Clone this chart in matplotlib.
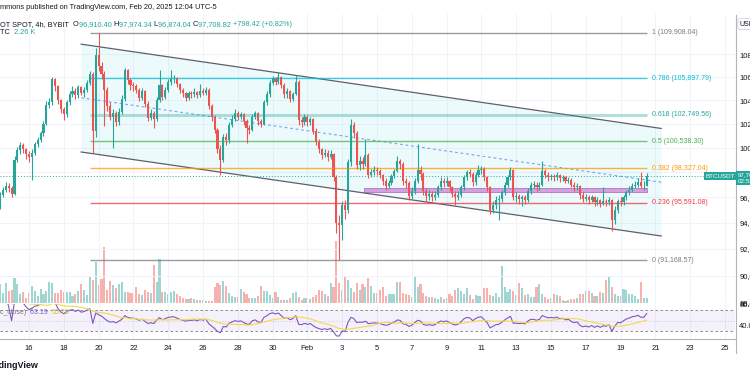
import numpy as np
import pandas as pd
import matplotlib
matplotlib.use('Agg')
import matplotlib.pyplot as plt
import matplotlib.dates as mdates
from matplotlib.ticker import FixedLocator, NullLocator, NullFormatter, FuncFormatter

plt.rcParams['font.family'] = ['Liberation Sans', 'DejaVu Sans']

# BTC/USDT 4h candles, prices in thousands of USDT
first_open = 95.4
closes = [
    96.2, 96.6, 96.9, 96.7, 96.3, 99.0, 99.8, 100.2, 99.9, 99.5,
    99.2, 99.6, 100.3, 100.6, 101.2, 102.0, 103.6, 103.8, 105.8, 105.2,
    104.0, 103.2, 102.8, 103.8, 104.5, 104.8, 104.4, 105.1, 104.6, 104.9,
    105.5, 106.3, 101.4, 107.9, 107.0, 106.3, 104.9, 103.5, 102.6, 102.9,
    102.1, 103.0, 104.1, 106.6, 105.7, 105.3, 105.2, 104.9, 104.2, 104.8,
    103.7, 102.5, 102.9, 102.4, 104.0, 105.3, 104.3, 104.9, 105.6, 105.8,
    105.9, 105.4, 104.9, 104.6, 104.2, 104.6, 104.5, 104.7, 104.4, 104.8,
    104.6, 104.9, 103.5, 102.6, 101.5, 99.9, 99.0, 100.9, 100.6, 101.9,
    102.4, 102.9, 102.6, 102.8, 102.2, 101.6, 101.5, 102.6, 102.9, 102.2,
    102.0, 103.8, 104.5, 105.5, 105.9, 105.6, 106.0, 105.3, 104.5, 104.8,
    104.1, 104.5, 105.6, 102.3, 102.1, 102.6, 102.1, 102.4, 101.4, 100.5,
    99.9, 99.4, 99.6, 99.2, 99.5, 97.6, 94.0, 93.8, 95.4, 95.0,
    98.8, 101.9, 101.2, 98.6, 98.9, 98.7, 99.4, 97.8, 98.0, 98.2,
    98.1, 97.8, 97.3, 96.9, 97.1, 97.7, 98.1, 98.9, 98.7, 97.3,
    97.1, 96.1, 96.5, 97.3, 98.2, 97.9, 96.5, 96.1, 96.3, 96.0,
    96.2, 96.8, 97.3, 97.1, 97.3, 96.8, 96.3, 96.0, 96.2, 96.8,
    97.6, 98.0, 97.9, 97.2, 97.8, 98.2, 98.3, 97.6, 96.8, 95.0,
    95.4, 95.8, 95.9, 96.4, 97.0, 97.6, 98.2, 96.0, 96.1, 95.9,
    96.0, 95.8, 96.5, 97.0, 97.0, 96.8, 97.0, 98.1, 97.8, 97.6,
    97.7, 97.6, 97.8, 97.5, 97.6, 97.3, 97.4, 97.0, 96.8, 96.9,
    96.2, 95.9, 96.0, 95.8, 96.0, 95.6, 95.8, 95.5, 95.7, 95.6,
    95.8, 94.2, 95.0, 95.7, 95.6, 96.0, 96.4, 96.6, 96.9, 97.0,
    97.2, 96.9, 96.9104, 97.70882,
]
highs = [
    96.4, 96.8, 97.2, 97.1, 96.9, 99.3, 100.1, 100.5, 100.4, 100.0,
    99.7, 99.9, 100.5, 100.9, 101.4, 102.2, 103.9, 104.2, 106.0, 105.9,
    105.3, 104.1, 103.4, 104.0, 104.8, 105.2, 105.0, 105.3, 105.2, 105.1,
    105.7, 106.5, 106.4, 108.6, 109.908, 107.3, 106.5, 105.1, 103.8, 103.2,
    103.1, 103.3, 104.4, 106.8, 106.7, 105.9, 105.6, 105.4, 105.0, 105.0,
    104.9, 103.9, 103.2, 103.1, 104.3, 106.6, 105.4, 105.1, 105.8, 106.6,
    106.2, 106.0, 105.5, 105.0, 104.7, 104.8, 104.8, 105.0, 104.8, 105.4,
    105.0, 105.1, 105.0, 103.7, 102.7, 101.6, 100.2, 101.1, 101.2, 102.1,
    102.7, 103.2, 103.1, 103.0, 102.9, 102.4, 101.9, 102.8, 103.1, 103.0,
    102.4, 104.0, 104.8, 105.7, 106.1, 106.0, 106.4, 106.1, 105.5, 105.0,
    104.9, 104.7, 106.2, 105.7, 102.6, 102.8, 102.7, 102.6, 102.5, 101.6,
    100.7, 100.0, 99.9, 99.8, 99.8, 99.6, 97.8, 94.6, 95.7, 95.8,
    99.1, 102.4, 102.1, 101.4, 99.3, 99.2, 100.7, 99.6, 98.3, 98.5,
    98.4, 98.3, 97.9, 97.5, 97.4, 97.9, 98.3, 99.3, 99.1, 98.8,
    97.5, 97.3, 96.8, 97.5, 100.3, 98.5, 98.0, 96.7, 96.6, 96.5,
    96.5, 97.0, 97.6, 97.5, 97.6, 97.4, 96.9, 96.5, 96.5, 97.0,
    97.8, 98.2, 98.3, 98.0, 98.0, 98.6, 98.5, 98.4, 97.7, 96.9,
    95.7, 96.1, 96.2, 96.6, 97.2, 97.8, 98.4, 98.3, 96.4, 96.3,
    96.2, 96.2, 96.7, 97.2, 97.3, 97.2, 97.2, 98.9, 98.3, 98.0,
    97.9, 97.9, 98.0, 97.9, 97.8, 97.7, 97.6, 97.5, 97.2, 97.1,
    97.0, 96.4, 96.3, 96.2, 96.2, 96.1, 96.0, 95.9, 96.8, 95.9,
    96.0, 95.9, 95.3, 95.9, 96.0, 96.2, 96.6, 96.9, 97.1, 97.3,
    97.5, 98.0, 97.3, 97.97434,
]
lows = [
    95.1, 96.0, 96.4, 96.4, 96.0, 96.2, 98.8, 99.5, 99.6, 99.1,
    98.8, 97.4, 99.4, 100.1, 100.5, 101.0, 101.9, 103.3, 103.6, 104.8,
    103.7, 102.9, 102.3, 102.6, 103.6, 104.3, 104.1, 104.2, 104.4, 104.3,
    104.7, 105.3, 99.6, 100.9, 106.5, 105.8, 101.8, 103.1, 102.3, 100.0,
    101.8, 101.9, 102.8, 103.9, 105.4, 104.9, 104.8, 104.6, 103.9, 104.0,
    103.4, 102.2, 102.3, 101.6, 102.2, 103.8, 104.0, 104.1, 104.7, 105.3,
    105.5, 105.1, 104.6, 104.3, 103.9, 104.0, 104.2, 104.3, 104.2, 104.3,
    104.4, 104.4, 103.2, 102.2, 101.2, 99.6, 97.8, 98.8, 100.2, 100.4,
    101.7, 102.2, 102.3, 102.4, 101.9, 100.4, 101.1, 101.4, 102.4, 101.9,
    101.7, 101.9, 103.6, 104.3, 105.3, 105.3, 105.4, 105.0, 104.2, 104.2,
    103.8, 103.9, 104.4, 101.9, 101.7, 101.9, 101.8, 101.9, 101.1, 100.2,
    99.6, 99.1, 99.2, 98.9, 99.1, 97.3, 93.2, 91.16857, 92.7, 94.3,
    94.8, 98.5, 100.8, 98.3, 98.2, 98.3, 98.5, 97.5, 97.6, 97.8,
    97.8, 97.5, 97.0, 96.6, 96.7, 97.0, 97.5, 98.0, 98.3, 97.0,
    96.7, 95.8, 95.9, 96.3, 97.1, 97.4, 96.2, 95.7, 95.8, 95.7,
    95.8, 96.0, 96.6, 96.8, 96.9, 96.5, 96.0, 95.4, 95.8, 96.0,
    96.6, 97.4, 97.6, 96.9, 97.0, 97.6, 97.9, 97.3, 96.5, 94.7,
    94.8, 95.1, 94.2, 95.6, 96.2, 96.8, 97.4, 95.8, 95.6, 95.5,
    95.3, 95.5, 95.6, 96.3, 96.7, 96.5, 96.6, 96.9, 97.5, 97.3,
    97.4, 97.3, 97.4, 97.2, 97.3, 97.1, 97.1, 96.8, 96.5, 96.6,
    95.9, 95.6, 95.7, 95.5, 95.6, 95.3, 95.4, 95.2, 95.4, 95.3,
    95.4, 93.4, 93.9, 94.8, 95.3, 95.4, 95.8, 96.2, 96.4, 96.7,
    96.8, 96.7, 96.6, 96.87404,
]
# volume in thousands of BTC
volumes = [
    8.6, 4.5, 9.0, 5.4, 5.9, 11.3, 8.6, 4.1, 5.0, 2.3,
    4.5, 7.7, 5.4, 3.2, 6.3, 4.1, 5.4, 9.5, 9.0, 4.5,
    4.5, 5.9, 5.0, 5.0, 5.0, 3.2, 4.1, 5.4, 8.6, 5.9,
    3.6, 12.2, 10.4, 18.5, 8.1, 10.8, 25.2, 5.9, 9.9, 8.1,
    6.8, 8.6, 9.5, 5.0, 5.0, 4.5, 4.5, 7.2, 4.1, 3.6,
    5.9, 5.0, 4.5, 17.1, 9.5, 19.8, 5.0, 5.0, 4.1, 5.0,
    5.4, 4.1, 3.2, 2.3, 1.8, 1.8, 2.3, 1.8, 1.4, 1.4,
    1.4, 1.1, 1.1, 1.1, 7.2, 9.0, 8.1, 9.9, 7.7, 4.5,
    3.2, 2.7, 2.7, 6.3, 5.0, 4.1,
    2.3, 2.3, 2.3, 3.2, 7.7, 5.4, 5.4, 3.6, 2.3, 5.0,
    2.7, 1.4, 1.4, 1.4, 2.3, 4.5, 5.0, 2.7, 1.4, 2.3,
    2.3, 1.8, 2.7, 3.6, 5.9, 5.4, 4.1, 3.2, 9.0, 7.2,
    27.9, 9.0, 5.9, 12.2, 10.4, 6.8, 5.0, 9.0, 5.9, 8.6,
    7.2, 11.3, 7.7, 4.5, 4.5, 5.9, 7.2, 3.2, 4.1, 4.1,
    4.1, 9.5, 9.5, 4.5, 4.1, 3.6, 2.7, 11.7, 7.2, 8.6,
    4.5, 3.2, 2.7, 2.7, 2.3, 1.8, 2.7, 1.8, 2.3, 4.1,
    3.2, 5.9, 6.8, 5.4, 4.1, 6.8, 3.6, 1.8, 3.6, 3.2,
    3.2, 6.8, 6.8, 3.6, 3.2, 4.5,
    2.7, 16.7, 7.2, 5.0, 6.3, 5.4, 3.6, 9.0, 6.8, 3.6,
    4.1, 2.7, 2.7, 7.2, 8.6, 4.1, 2.7, 1.8, 2.3, 4.1,
    3.6, 3.2, 1.4, 0.9, 1.4, 1.8, 1.8, 2.3, 4.1, 4.1,
    5.4, 5.4, 4.5, 3.2, 3.2, 5.0, 4.5, 10.4, 11.7, 7.2,
    4.1, 3.2, 3.2, 6.3, 5.9, 4.1, 4.1, 3.2, 1.8, 9.5,
    2.3, 2.26,
]

fib_ratios = [1, 0.786, 0.618, 0.5, 0.382, 0.236, 0]
fib_prices = [109908.04, 105897.79, 102749.56, 100538.30, 98327.04, 95591.08, 91168.57]
fib_colors = ['#787b86', '#00bcd4', '#26a69a', '#4caf50', '#ff9800', '#f23645', '#787b86']
fib_span = ['2025-01-19 12:00', '2025-02-20 12:00']

channel_span = ['2025-01-19 00:00', '2025-02-21 08:00']
channel_upper = [108.9, 101.6]
channel_lower = [99.65, 92.99]
channel_mid = [104.2, 97.2]

zone_span = ['2025-02-04 06:00', '2025-02-20 12:00']
zone_range = [96.44, 96.72]

price_ticks = [88, 90, 92, 94, 96, 98, 100, 102, 104, 106, 108]
date_ticks = pd.date_range('2025-01-16', '2025-02-25', freq='2D')

UP, DOWN = '#26a69a', '#ef5350'
VUP, VDOWN = '#9fd6d1', '#f7b1af'
TXT, GRID = '#131722', '#f0f3fa'

W, H = 750, 375
def rect(x0, y0, x1, y1):
    return [x0 / W, 1 - y1 / H, (x1 - x0) / W, (y1 - y0) / H]

times = pd.date_range('2025-01-14 08:00', periods=len(closes), freq='4h')
x = mdates.date2num(times)
o = np.array([first_open] + closes[:-1])
c = np.array(closes)
hi = np.array(highs)
lo = np.array(lows)
up = c >= o
cols = np.where(up, UP, DOWN)
w = 0.7 / 6

fig = plt.figure(figsize=(7.5, 3.75), dpi=100)
ax = fig.add_axes(rect(0, 14, 735, 303))
rsi_ax = fig.add_axes(rect(0, 304, 735, 339), sharex=ax)
vol = ax.twinx()

# volume underneath candles
vol.bar(x, volumes, width=w, color=np.where(up, VUP, VDOWN), linewidth=0)
vol.set_ylim(0, 130)
vol.set_axis_off()
vol.set_zorder(0)
ax.set_zorder(1)
ax.patch.set_visible(False)

ax.set_yscale('log')
ax.set_xlim(x[0], x[0] + 735 / 17.4)
ax.set_ylim(88.0, 111.64)

# channel
cx = mdates.date2num(pd.to_datetime(channel_span))
ax.fill_between(cx, channel_lower, channel_upper, color='#00bcd4', alpha=0.07, lw=0)
ax.plot(cx, channel_upper, color='#5d606b', lw=0.9)
ax.plot(cx, channel_lower, color='#5d606b', lw=0.9)
ax.plot(cx, channel_mid, color='#5b8def', lw=0.8, ls=(0, (2.5, 2.5)), alpha=0.8)

# fib levels
fx = mdates.date2num(pd.to_datetime(fib_span))
for r, p, col in zip(fib_ratios, fib_prices, fib_colors):
    if r == 0.618:
        ax.hlines(p / 1000, fx[0], fx[1], color=col, lw=2.2, alpha=0.35)
    else:
        ax.hlines(p / 1000, fx[0], fx[1], color=col, lw=1.0, alpha=0.75)
    ax.annotate(f"{r:g} ({p:,.2f})", xy=(fx[1], p / 1000), xytext=(3.5, 0),
                textcoords='offset points', color=col, fontsize=5, va='center')

# purple zone
zx = mdates.date2num(pd.to_datetime(zone_span))
ax.fill_between(zx, zone_range[0], zone_range[1], facecolor='#ce93d8',
                edgecolor='#ab47bc', lw=0.5, alpha=0.85)

# last price line
ax.axhline(c[-1], color=UP, lw=0.7, ls=(0, (1, 2)))

# candles
ax.vlines(x, lo, hi, colors=cols, lw=0.8)
ax.bar(x, np.maximum(np.abs(c - o), 0.03), bottom=np.minimum(o, c), width=w,
       color=cols, linewidth=0)

for s in ax.spines.values():
    s.set_visible(False)
ax.yaxis.set_major_locator(FixedLocator(price_ticks))
ax.yaxis.set_minor_locator(NullLocator())
ax.yaxis.set_minor_formatter(NullFormatter())
ax.yaxis.set_major_formatter(FuncFormatter(lambda v, _: f"{v * 1000:,.0f}"))
ax.yaxis.tick_right()
ax.tick_params(axis='y', which='both', length=0, labelsize=5.5, pad=3, labelcolor=TXT)
ax.tick_params(axis='x', length=0, labelbottom=False)
ax.grid(True, color=GRID, lw=0.7)
ax.set_axisbelow(True)

# RSI pane
d = pd.Series(c).diff()
gain = d.clip(lower=0).ewm(alpha=1 / 14).mean()
loss = (-d).clip(lower=0).ewm(alpha=1 / 14).mean()
rsi = 100 - 100 / (1 + gain / loss)
rsi_ma = rsi.rolling(14, min_periods=1).mean()

rsi_ax.axhspan(30, 70, color='#7e57c2', alpha=0.08, lw=0)
rsi_ax.axhline(70, color='#787b86', lw=0.6, ls=(0, (3, 3)))
rsi_ax.axhline(30, color='#787b86', lw=0.6, ls=(0, (3, 3)))
rsi_ax.axhline(50, color='#787b86', lw=0.5, ls=(0, (1, 3)), alpha=0.6)
rsi_ax.plot(x, rsi, color='#7e57c2', lw=0.8)
rsi_ax.plot(x, rsi_ma, color='#f2d94e', lw=0.8)
rsi_ax.set_ylim(14.8, 81.4)
rsi_ax.set_yticks([40, 80])
rsi_ax.set_yticklabels(['40.00', '80.00'])
rsi_ax.yaxis.tick_right()
for k, s in rsi_ax.spines.items():
    s.set_visible(k == 'bottom')
rsi_ax.spines['bottom'].set_color('#b2b5be')
rsi_ax.spines['bottom'].set_linewidth(0.8)
rsi_ax.set_xticks(mdates.date2num(date_ticks))
rsi_ax.set_xticklabels(['Feb' if (t.day == 1 and t.month == 2) else str(t.day) for t in date_ticks])
rsi_ax.tick_params(axis='x', length=0, labelsize=5.5, pad=4, labelcolor=TXT)
rsi_ax.tick_params(axis='y', length=0, labelsize=5.5, pad=3, labelcolor=TXT)
rsi_ax.grid(True, axis='x', color=GRID, lw=0.7)
rsi_ax.set_axisbelow(True)
rsi_ax.set_xlim(x[0], x[0] + 735 / 17.4)

# frame line on the right of the panes
fig.add_artist(plt.Line2D([735.5 / W] * 2, [1 - 353 / H, 1 - 15 / H], color='#b2b5be', lw=0.8))


def chain(parts, x0, y0, size):
    t = ax.annotate(parts[0][0], xy=(x0 / W, 1 - y0 / H), xycoords='figure fraction',
                    color=parts[0][1], fontsize=size, va='bottom', annotation_clip=False)
    for s, col in parts[1:]:
        t = ax.annotate(s, xy=(1, 0), xycoords=t, color=col, fontsize=size,
                        va='bottom', annotation_clip=False)


chain([("mmons published on TradingView.com, Feb 20, 2025 12:04 UTC-5", TXT)], 0, 11, 5.3)
chg = (c[-1] - o[-1]) * 1000
pct = (c[-1] - o[-1]) / o[-1] * 100
chain([("OT SPOT, 4h, BYBIT  ", TXT),
       ("O", TXT), (f"{o[-1] * 1000:,.2f} ", UP),
       ("H", TXT), (f"{hi[-1] * 1000:,.2f} ", UP),
       ("L", TXT), (f"{lo[-1] * 1000:,.2f} ", UP),
       ("C", TXT), (f"{c[-1] * 1000:,.2f} ", UP),
       (f"+{chg:,.2f} (+{pct:.2f}%)", UP)], 0, 28, 5.3)
chain([("TC  ", TXT), (f"{volumes[-1]:.2f} K", UP)], 0, 36, 5.3)
chain([("c_close)  ", '#787b86'), (f"{rsi.iloc[-1]:.2f}  ", '#7e57c2'),
       (f"{rsi_ma.iloc[-1]:.2f}", '#d9bf2c')], 0, 316, 5)

fig.text(-14 / W, 1 - 365 / H, "TradingView", fontsize=6.5, fontweight='bold',
         color=TXT, va='center')
fig.text(706 / W, 1 - 176 / H, "BTCUSDT", fontsize=4.5, color='white', va='center',
         bbox=dict(boxstyle='square,pad=0.3', fc=UP, ec='none'))
fig.text(737.5 / W, 1 - 178 / H, f"{c[-1] * 1000:,.2f}\n02:55:41", fontsize=4.5,
         color='white', va='center', linespacing=1.3,
         bbox=dict(boxstyle='square,pad=0.3', fc=UP, ec='none'))
fig.text(740 / W, 1 - 24 / H, "USDT", fontsize=5, color=TXT, va='center',
         bbox=dict(boxstyle='round,pad=0.3', fc='white', ec='#d1d4dc', lw=0.6))

fig.savefig('out.png', dpi=100)
